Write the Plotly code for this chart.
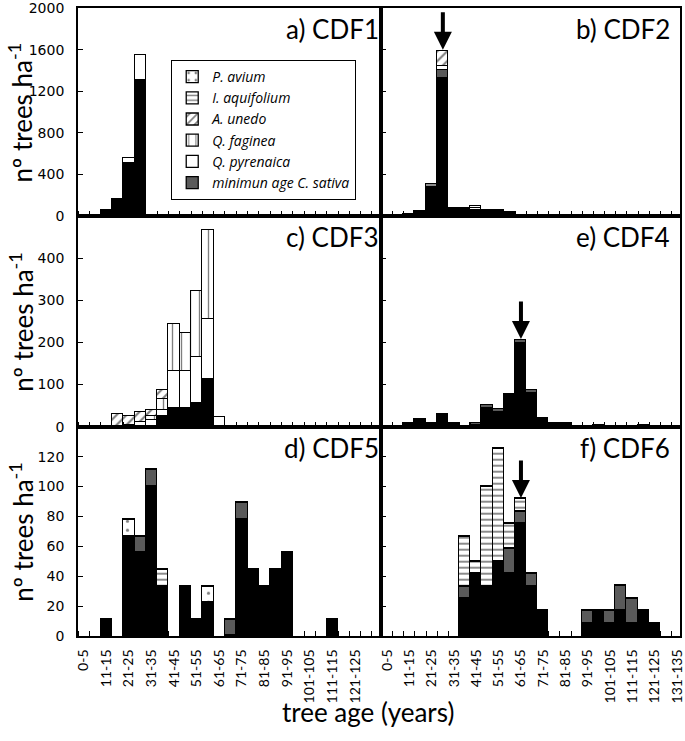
import plotly.graph_objects as go

categories = ["0-5", "6-10", "11-15", "16-20", "21-25", "26-30", "31-35", "36-40", "41-45",
              "46-50", "51-55", "56-60", "61-65", "66-70", "71-75", "76-80", "81-85", "86-90",
              "91-95", "96-100", "101-105", "106-110", "111-115", "116-120", "121-125",
              "126-130", "131-135"]

# ---- CDF1 ----
cdf1_sativa = [0, 0, 55, 160, 510, 1310, 0, 0, 0, 0, 0, 0, 0, 0, 0, 0, 0, 0, 0, 0, 0, 0, 0, 0, 0, 0, 0]
cdf1_qpyr   = [0, 0, 0, 0, 50, 240, 0, 0, 0, 0, 0, 0, 0, 0, 0, 0, 0, 0, 0, 0, 0, 0, 0, 0, 0, 0, 0]

# ---- CDF2 ----
cdf2_sativa = [0, 0, 15, 45, 280, 1330, 70, 55, 60, 50, 45, 40, 0, 0, 0, 0, 0, 0, 0, 0, 0, 0, 0, 0, 0, 0, 0]
cdf2_minage = [0, 0, 0, 0, 0, 70, 8, 0, 0, 0, 0, 0, 0, 0, 0, 0, 0, 0, 0, 0, 0, 0, 0, 0, 0, 0, 0]
cdf2_qpyr   = [0, 0, 0, 0, 0, 40, 0, 10, 15, 0, 8, 0, 0, 0, 0, 0, 0, 0, 0, 0, 0, 0, 0, 0, 0, 0, 0]
cdf2_aunedo = [0, 0, 0, 0, 0, 150, 0, 0, 0, 0, 0, 0, 0, 0, 0, 0, 0, 0, 0, 0, 0, 0, 0, 0, 0, 0, 0]
cdf2_iaq    = [0, 0, 0, 0, 30, 0, 0, 12, 20, 8, 0, 0, 0, 0, 0, 0, 0, 0, 0, 0, 0, 0, 0, 0, 0, 0, 0]

# ---- CDF3 ----
cdf3_sativa = [0, 0, 0, 0, 0, 0, 0, 25, 45, 45, 57, 113, 0, 0, 0, 0, 0, 0, 0, 0, 0, 0, 0, 0, 0, 0, 0]
cdf3_qpyr   = [0, 0, 0, 0, 5, 12, 15, 15, 87, 87, 109, 142, 22, 0, 0, 0, 0, 0, 0, 0, 0, 0, 0, 0, 0, 0, 0]
cdf3_qfag   = [0, 0, 0, 0, 0, 0, 10, 25, 112, 90, 157, 212, 0, 0, 0, 0, 0, 0, 0, 0, 0, 0, 0, 0, 0, 0, 0]
cdf3_aunedo = [0, 0, 0, 30, 20, 22, 15, 22, 0, 0, 0, 0, 0, 0, 0, 0, 0, 0, 0, 0, 0, 0, 0, 0, 0, 0, 0]

# ---- CDF4 ----
cdf4_sativa = [0, 0, 8, 18, 8, 30, 8, 0, 4, 44, 35, 78, 198, 80, 20, 8, 8, 0, 0, 5, 0, 0, 0, 5, 0, 0, 0]
cdf4_minage = [0, 0, 0, 0, 0, 0, 0, 0, 5, 8, 6, 0, 8, 7, 0, 0, 0, 0, 0, 0, 0, 0, 0, 0, 0, 0, 0]

# ---- CDF5 ----
cdf5_sativa = [0, 0, 11.1, 0, 66.7, 55.6, 100, 33.3, 0, 33.3, 11.1, 22.2, 0, 0, 77.8, 44.4, 33.3, 44.4,
               55.6, 0, 0, 0, 11.1, 0, 0, 0, 0]
cdf5_minage = [0, 0, 0, 0, 0, 11.1, 11.1, 0, 0, 0, 0, 0, 0, 11.1, 11.1, 0, 0, 0, 0, 0, 0, 0, 0, 0, 0, 0, 0]
cdf5_pavium = [0, 0, 0, 0, 11.1, 0, 0, 0, 0, 0, 0, 11.1, 0, 0, 0, 0, 0, 0, 0, 0, 0, 0, 0, 0, 0, 0, 0]
cdf5_iaq    = [0, 0, 0, 0, 0, 0, 0, 11.1, 0, 0, 0, 0, 0, 0, 0, 0, 0, 0, 0, 0, 0, 0, 0, 0, 0, 0, 0]

# ---- CDF6 ----
cdf6_sativa = [0, 0, 0, 0, 0, 0, 0, 25, 41.7, 33.3, 50, 41.7, 75, 33.3, 16.7, 0, 0, 0, 8.3, 16.7, 8.3,
               16.7, 8.3, 16.7, 8.3, 0, 0]
cdf6_minage = [0, 0, 0, 0, 0, 0, 0, 8.3, 0, 0, 0, 16.7, 8.3, 8.3, 0, 0, 0, 0, 8.3, 0, 8.3, 16.7, 16.7,
               0, 0, 0, 0]
cdf6_iaq    = [0, 0, 0, 0, 0, 0, 0, 33.3, 8.3, 66.7, 75, 16.7, 8.3, 0, 0, 0, 0, 0, 0, 0, 0, 0, 0, 0, 0, 0, 0]

panel_titles = ["a) CDF1", "b) CDF2", "c) CDF3", "e) CDF4", "d) CDF5", "f) CDF6"]
row_ymax = [2000, 500, 140]
row_ticks = [[0, 400, 800, 1200, 1600, 2000], [0, 100, 200, 300, 400], [0, 20, 40, 60, 80, 100, 120]]
arrow_panels = {1: 5, 3: 12, 5: 12}   # panel index -> category index of arrow

zeros = [0] * len(categories)
panel_data = [
    dict(sativa=cdf1_sativa, qpyr=cdf1_qpyr),
    dict(sativa=cdf2_sativa, minage=cdf2_minage, qpyr=cdf2_qpyr, aunedo=cdf2_aunedo, iaq=cdf2_iaq),
    dict(sativa=cdf3_sativa, qpyr=cdf3_qpyr, qfag=cdf3_qfag, aunedo=cdf3_aunedo),
    dict(sativa=cdf4_sativa, minage=cdf4_minage),
    dict(sativa=cdf5_sativa, minage=cdf5_minage, pavium=cdf5_pavium, iaq=cdf5_iaq),
    dict(sativa=cdf6_sativa, minage=cdf6_minage, iaq=cdf6_iaq),
]

series = [
    ("sativa", "C. sativa", "black", ""),
    ("minage", "minimun age C. sativa", "#5a5a5a", ""),
    ("qpyr", "Q. pyrenaica", "white", ""),
    ("qfag", "Q. faginea", "white", "|"),
    ("aunedo", "A. unedo", "white", "/"),
    ("iaq", "I. aquifolium", "white", "-"),
    ("pavium", "P. avium", "white", "."),
]
pat_size = {"|": 9, "/": 7, "-": 6, ".": 9}
pat_sol = {"|": 0.15, "/": 0.3, "-": 0.3, ".": 0.1}

FONT = "Lato"
fig = go.Figure()
xs = list(range(len(categories)))

for p, pdata in enumerate(panel_data):
    sfx = "" if p == 0 else str(p + 1)
    for key, name, color, shape in series:
        vals = pdata.get(key, zeros)
        vals = [v if v else None for v in vals]
        marker = dict(color=color, line=dict(color="black", width=1.3))
        if shape:
            marker["pattern"] = dict(shape=shape, fgcolor="black", bgcolor="white",
                                     size=pat_size[shape], solidity=pat_sol[shape])
        fig.add_trace(go.Bar(
            x=xs, y=vals, width=1, name=name, marker=marker,
            xaxis="x" + sfx, yaxis="y" + sfx, legendgroup=key,
            showlegend=(p == 0 and key != "sativa")))

# geometry
L, R_, T, B = 78, 0, 8, 105
W, H = 685, 741
pw = W - L - R_
ph = H - T - B
xsplit = 306 / pw
row_bounds = [(636 - 216) / ph, (636 - 426.7) / ph]
row_domains = [[row_bounds[0], 1], [row_bounds[1], row_bounds[0]], [0, row_bounds[1]]]
col_domains = [[0, xsplit], [xsplit, 1]]
col_ranges = [[-0.5, -0.5 + 306 / 11.4], [-0.5, -0.5 + 301 / 11.25]]

layout = dict(
    width=W, height=H, margin=dict(l=L, r=R_, t=T, b=B),
    paper_bgcolor="white", plot_bgcolor="white",
    barmode="stack", bargap=0,
    font=dict(family=FONT, color="black"),
    showlegend=True,
    legend=dict(x=(172 - L) / pw, y=1 - (60 - T) / ph, xanchor="left", yanchor="top",
                bgcolor="white", bordercolor="black", borderwidth=1,
                traceorder="reversed", font=dict(family="Open Sans", size=14, style="italic"),
                tracegroupgap=0),
)

annotations = []
for p in range(6):
    r, c = p // 2, p % 2
    sfx = "" if p == 0 else str(p + 1)
    last_label = 24 if c == 0 else 26
    tv = list(range(0, last_label + 1, 2))
    layout["xaxis" + sfx] = dict(
        domain=col_domains[c], anchor="y" + sfx, range=col_ranges[c],
        showline=True, linecolor="black", linewidth=1.8, mirror=True,
        showgrid=False, zeroline=False,
        tickmode="array", tickvals=tv, ticktext=[categories[i] for i in tv],
        ticks="", showticklabels=(r == 2), tickangle=-90, ticklabeloverflow="allow",
        tickfont=dict(family=FONT, size=14), ticklabelstandoff=6,
        minor=dict(tickmode="array", tickvals=[k - 0.5 for k in range(len(categories) + 1)],
                   ticks="inside", ticklen=5, tickwidth=1.3, tickcolor="black", showgrid=False),
    )
    layout["yaxis" + sfx] = dict(
        domain=row_domains[r], anchor="x" + sfx, range=[0, row_ymax[r]],
        showline=True, linecolor="black", linewidth=1.8, mirror=True,
        showgrid=False, zeroline=False,
        tickmode="array", tickvals=row_ticks[r], ticklabeloverflow="allow",
        ticks="inside", ticklen=5, tickwidth=1.3, tickcolor="black",
        showticklabels=(c == 0), tickfont=dict(family="DejaVu Sans", size=14),
        ticklabelstandoff=9,
    )
    annotations.append(dict(
        text=panel_titles[p], xref="x" + sfx + " domain", yref="y" + sfx + " domain",
        x=1.0 if c == 0 else 0.972, y=1, xanchor="right", yanchor="middle", yshift=-21,
        showarrow=False, font=dict(family=FONT, size=26)))
    if p in arrow_panels:
        k = arrow_panels[p]
        total = sum(panel_data[p].get(key, zeros)[k] for key, _, _, _ in series)
        annotations.append(dict(
            x=k, y=total, xref="x" + sfx, yref="y" + sfx, text="", showarrow=True,
            ax=0, ay=-40, arrowhead=2, arrowsize=0.9, arrowwidth=4, arrowcolor="black",
            standoff=1))

for r in range(3):
    annotations.append(dict(
        text="nº trees ha<sup>-1</sup>", xref="paper", yref="paper",
        x=(21 - L) / pw, y=sum(row_domains[r]) / 2, textangle=-90,
        xanchor="center", yanchor="middle", showarrow=False,
        font=dict(family=FONT, size=26)))

annotations.append(dict(
    text="tree age (years)", xref="paper", yref="paper",
    x=(370 - L) / pw, y=-(712 - 636) / ph, xanchor="center", yanchor="middle",
    showarrow=False, font=dict(family=FONT, size=26)))

layout["annotations"] = annotations
fig.update_layout(**layout)
fig.write_html("out.html", post_script="document.body.style.margin='0';",
               config={"displayModeBar": False})
